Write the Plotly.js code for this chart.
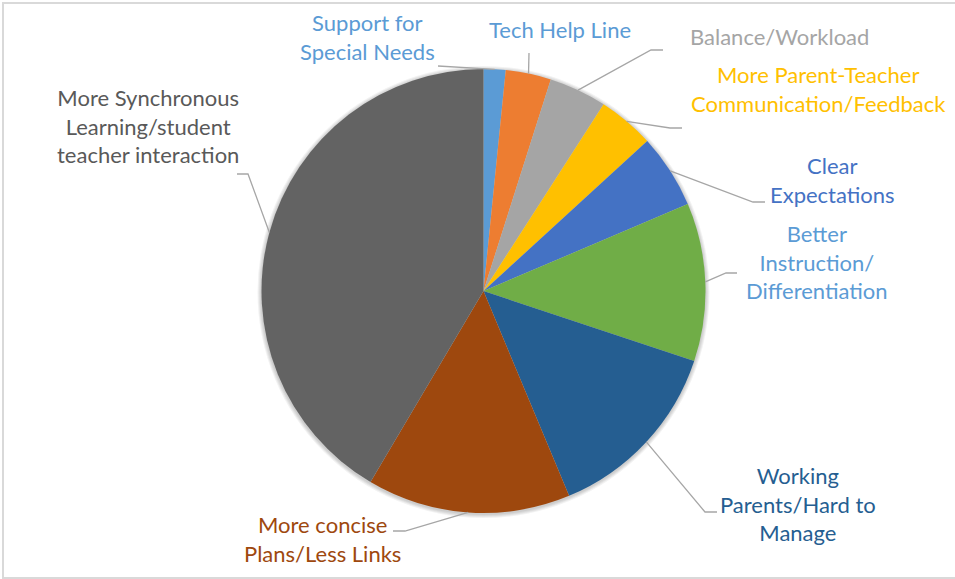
<!DOCTYPE html>
<html>
<head>
<meta charset="utf-8">
<script src="https://cdn.plot.ly/plotly-3.0.1.min.js"></script>
<style>html,body{margin:0;padding:0;background:#fff;}#chart{width:955px;height:579px;}</style>
</head>
<body>
<div id="chart"></div>
<script>
// ---- data (clockwise from 12 o'clock) ----
const labels = [
  "Support for<br>Special Needs",
  "Tech Help Line",
  "Balance/Workload",
  "More Parent-Teacher<br>Communication/Feedback",
  "Clear<br>Expectations",
  "Better<br>Instruction/<br>Differentiation",
  "Working<br>Parents/Hard to<br>Manage",
  "More concise<br>Plans/Less Links",
  "More Synchronous<br>Learning/student<br>teacher interaction"
];
const values = [1.6, 3.3, 4.2, 4.1, 5.4, 11.5, 13.6, 14.8, 41.5];
const sliceColors = ["#5B9BD5", "#ED7D31", "#A5A5A5", "#FFC000", "#4472C4", "#70AD47", "#255E91", "#9E480E", "#636363"];
const labelColors = ["#5B9BD5", "#5B9BD5", "#A5A5A5", "#FFC000", "#4472C4", "#5B9BD5", "#255E91", "#9E480E", "#595959"];

// ---- layout geometry (pixels) ----
const W = 955, H = 579;
const CX = 483.5, CY = 291, R = 222;
// label centre positions and leader-line elbow/end points
const labelPos = [[367, 37], [560, 30], [779, 37], [818, 89], [832, 180], [817, 262], [798, 504], [322, 539], [148, 126]];
const elbows   = [[438, 66], [529, 53], [651, 50], [670, 128], [753, 202], [726, 273], [705, 512], [405, 531], [248, 174]];
const ends     = [[438, 66], [529, 53], [663, 50], [682, 128], [765, 202], [737, 273], [717, 512], [393, 531], [237, 174]];

const px = x => x / W;
const py = y => 1 - y / H;

const total = values.reduce((a, b) => a + b, 0);
let cum = 0;
const shapes = [];
const annotations = [];

// chart border
shapes.push({type: "rect", xref: "paper", yref: "paper", x0: px(3), x1: px(960), y0: py(578), y1: py(3),
  line: {color: "#D9D9D9", width: 2}, layer: "below"});
// soft shadow around the pie
[4, 3, 2, 1].forEach(d => {
  shapes.push({type: "circle", xref: "paper", yref: "paper", layer: "below",
    x0: px(CX - R - d), x1: px(CX + R + d), y0: py(CY + R + d + 1), y1: py(CY - R - d + 1),
    fillcolor: "rgba(0,0,0,0.05)", line: {width: 0}});
});

values.forEach((v, i) => {
  const mid = (cum + v / 2) / total * 2 * Math.PI;
  cum += v;
  const sx = CX + R * Math.sin(mid);
  const sy = CY - R * Math.cos(mid);
  const e = elbows[i], f = ends[i];
  shapes.push({
    type: "path", xref: "paper", yref: "paper",
    path: `M ${px(sx)} ${py(sy)} L ${px(e[0])} ${py(e[1])} L ${px(f[0])} ${py(f[1])}`,
    line: {color: "#A6A6A6", width: 1.3}
  });
  annotations.push({
    xref: "paper", yref: "paper", x: px(labelPos[i][0]), y: py(labelPos[i][1]),
    xanchor: "center", yanchor: "middle", align: "center", showarrow: false,
    text: labels[i], font: {family: "Lato, 'Open Sans', sans-serif", size: 22, color: labelColors[i]}
  });
});

const trace = {
  type: "pie",
  labels: labels,
  values: values,
  sort: false,
  direction: "clockwise",
  rotation: 0,
  textinfo: "none",
  hoverinfo: "label+percent",
  marker: {colors: sliceColors, line: {width: 0}},
  domain: {x: [(CX - R) / W, (CX + R) / W], y: [(H - CY - R) / H, (H - CY + R) / H]},
  showlegend: false
};

Plotly.newPlot("chart", [trace], {
  width: W, height: H,
  margin: {l: 0, r: 0, t: 0, b: 0},
  paper_bgcolor: "#ffffff",
  plot_bgcolor: "rgba(0,0,0,0)",
  showlegend: false,
  shapes: shapes,
  annotations: annotations
}, {displayModeBar: false, staticPlot: true});
</script>
</body>
</html>
